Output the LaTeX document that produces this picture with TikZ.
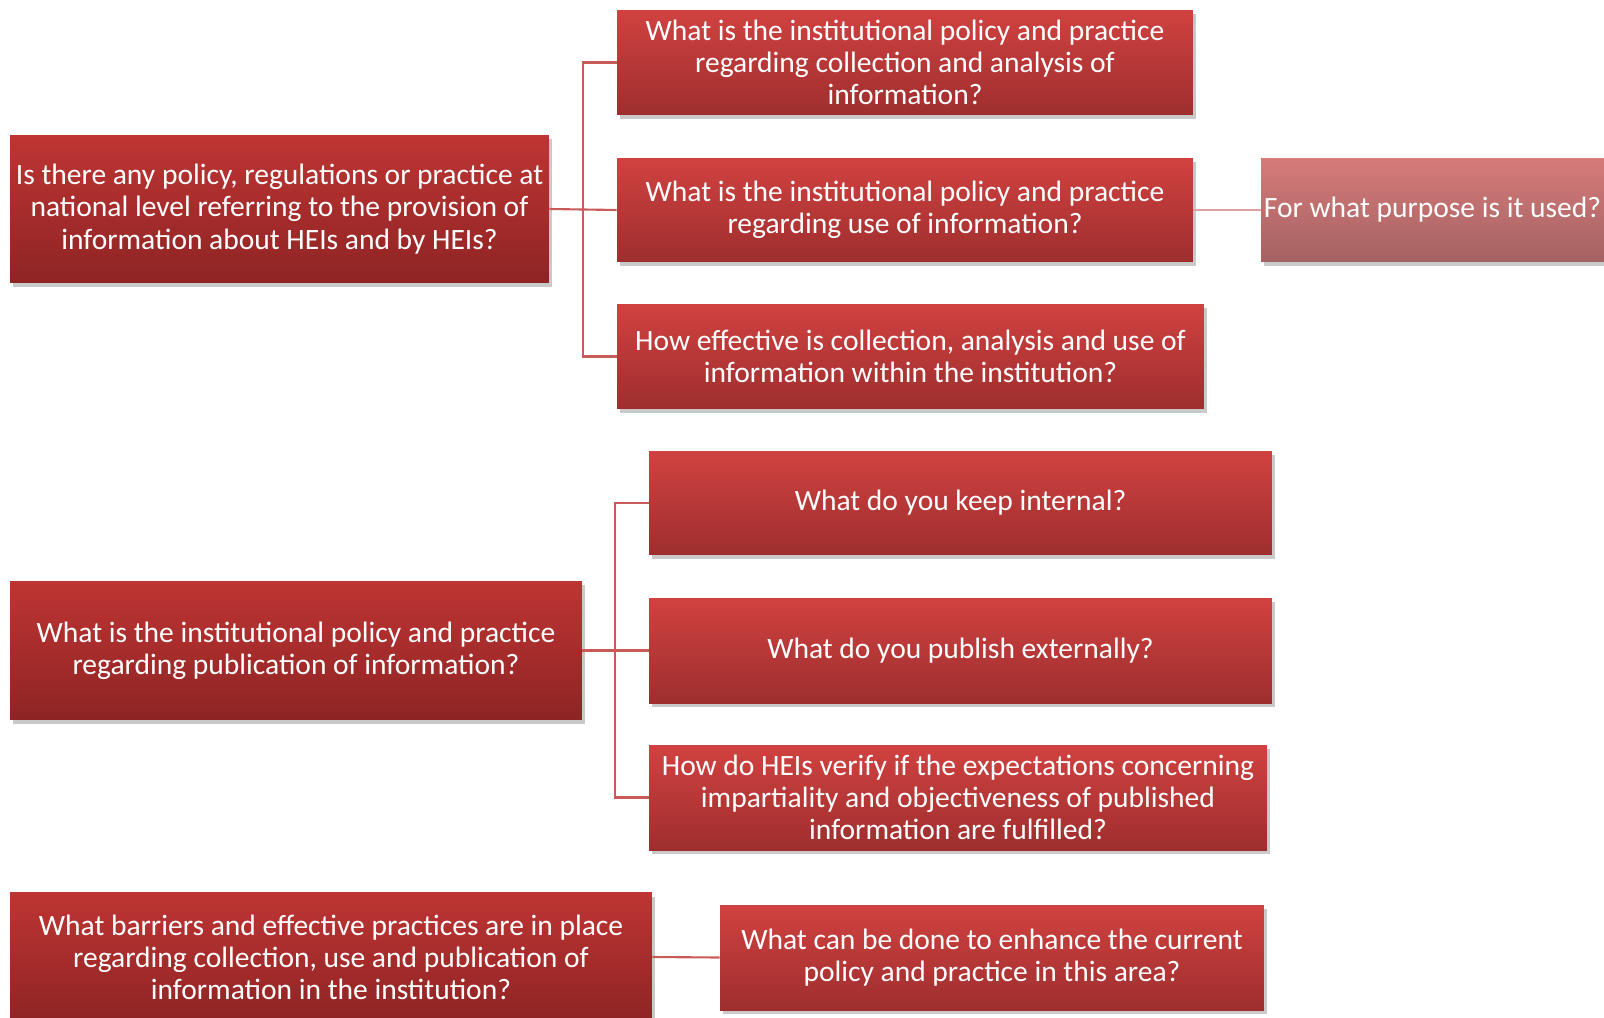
\documentclass[tikz,border=0pt]{standalone}
\usepackage{fontspec}
\setmainfont{Carlito}
\usetikzlibrary{shadows}

\definecolor{boxtop}{RGB}{208,66,64}
\definecolor{boxbot}{RGB}{158,46,46}
\definecolor{roottop}{RGB}{190,53,51}
\definecolor{rootbot}{RGB}{142,36,36}
\definecolor{paletop}{RGB}{213,123,122}
\definecolor{palebot}{RGB}{165,98,98}
\definecolor{linkred}{RGB}{200,90,88}
\definecolor{linkpale}{RGB}{222,160,160}

\begin{document}
\begin{tikzpicture}[x=0.02cm, y=-0.02cm,
    question/.style={rectangle, align=center, text=white, inner sep=0pt,
        top color=boxtop, bottom color=boxbot,
        drop shadow={shadow xshift=0.06cm, shadow yshift=-0.08cm, opacity=0.3, fill=black!70},
        font=\fontsize{16.8}{18.3}\selectfont},
    rootq/.style={question, top color=roottop, bottom color=rootbot},
    paleq/.style={question, top color=paletop, bottom color=palebot},
    link/.style={draw=linkred, line width=1.2pt},
    palelink/.style={draw=linkpale, line width=1.2pt}]
    \useasboundingbox (0,0) rectangle (1604,1017);

    % first group
    \node[rootq, minimum width=10.78cm, minimum height=2.96cm] (natpol) at (279.5,209)
        {Is there any policy, regulations or practice at\\national level referring to the provision of\\information about HEIs and by HEIs?};
    \node[question, minimum width=11.52cm, minimum height=2.1cm] (collect) at (905,62.5)
        {What is the institutional policy and practice\\regarding collection and analysis of\\information?};
    \node[question, minimum width=11.52cm, minimum height=2.08cm] (use) at (905,210)
        {What is the institutional policy and practice\\regarding use of information?};
    \node[question, minimum width=11.74cm, minimum height=2.1cm] (effect) at (910.5,356.5)
        {How effective is collection, analysis and use of\\information within the institution?};
    \node[paleq, minimum width=6.86cm, minimum height=2.08cm] (purpose) at (1432.5,210)
        {For what purpose is it used?};

    \draw[link] (natpol.east) -- (use.west);
    \draw[link] (collect.west) -- ++(-34,0) |- (effect.west);
    \draw[palelink] (use.east) -- (purpose.west);

    % second group
    \node[rootq, minimum width=11.44cm, minimum height=2.78cm] (publ) at (296,650.5)
        {What is the institutional policy and practice\\regarding publication of information?};
    \node[question, minimum width=12.46cm, minimum height=2.08cm] (internal) at (960.5,503)
        {What do you keep internal?};
    \node[question, minimum width=12.46cm, minimum height=2.1cm] (external) at (960.5,650.5)
        {What do you publish externally?};
    \node[question, minimum width=12.36cm, minimum height=2.1cm] (verify) at (958,797.5)
        {How do HEIs verify if the expectations concerning\\impartiality and objectiveness of published\\information are fulfilled?};

    \draw[link] (publ.east) -- (external.west);
    \draw[link] (internal.west) -- ++(-34,0) |- (verify.west);

    % third group
    \node[rootq, minimum width=12.84cm, minimum height=2.58cm] (barriers) at (331,957)
        {What barriers and effective practices are in place\\regarding collection, use and publication of\\information in the institution?};
    \node[question, minimum width=10.88cm, minimum height=2.1cm] (enhance) at (992,957.5)
        {What can be done to enhance the current\\policy and practice in this area?};

    \draw[link] (barriers.east) -- (enhance.west);
\end{tikzpicture}
\end{document}
